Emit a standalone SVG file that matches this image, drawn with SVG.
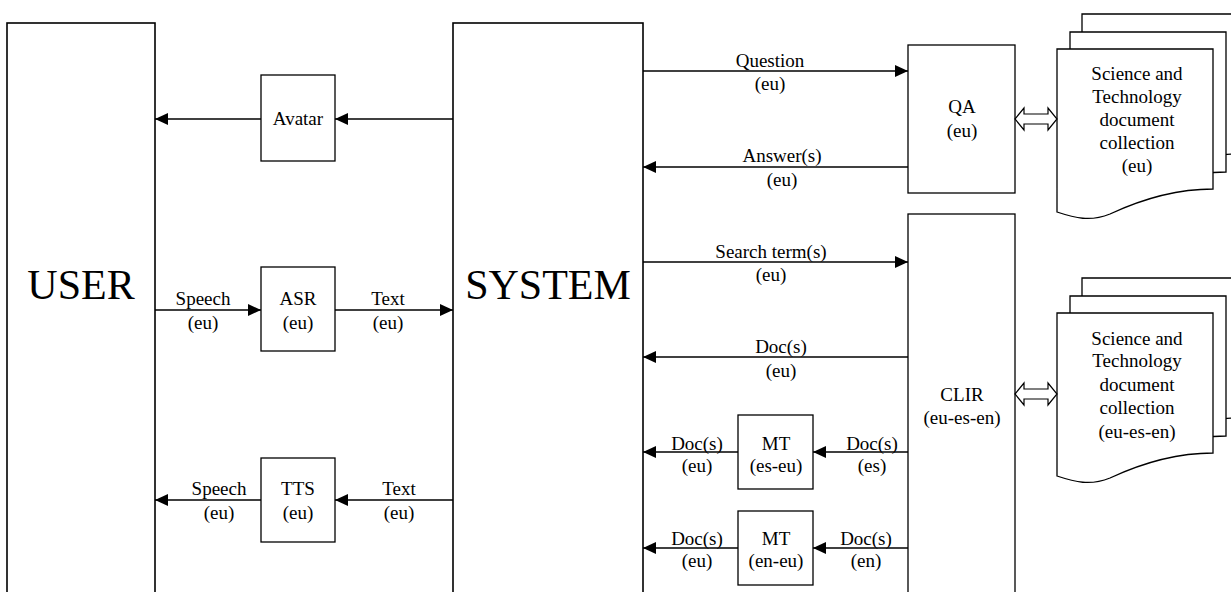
<svg xmlns="http://www.w3.org/2000/svg" xmlns:xlink="http://www.w3.org/1999/xlink" width="1231" height="592" viewBox="0 0 1231 592">
<style>
.box{fill:#fff;stroke:#000;stroke-width:1.3}
.big{fill:#fff;stroke:#000;stroke-width:1.6}
text{font-family:"Liberation Serif","Times New Roman",serif;font-size:19px;fill:#000;text-anchor:middle}
.t42{font-size:42px}
.ln{stroke:#000;stroke-width:1.3;fill:none}
.arr{stroke:#000;stroke-width:1.3;fill:none;marker-end:url(#ah)}
.dbl{fill:#fff;stroke:#000;stroke-width:1.2}
</style>
<defs>
<marker id="ah" markerUnits="userSpaceOnUse" markerWidth="13" markerHeight="12" refX="13" refY="6" orient="auto">
<path d="M0,0 L13,6 L0,12 Z" fill="#000"/>
</marker>
<path id="page" d="M1057,49 H1213 V189 C1175,189 1140,200 1110,214 C1090,222 1075,218 1057,212 Z" class="box"/>
</defs>

<g id="user"><rect class="big" x="7" y="23" width="148" height="600"/><text class="t42" x="81" y="299">USER</text></g>
<g id="system"><rect class="big" x="453" y="23" width="190" height="600"/><text class="t42" x="548" y="299">SYSTEM</text></g>

<g id="avatar"><rect class="box" x="261" y="75" width="74" height="86"/><text x="298" y="125">Avatar</text></g>
<g id="asr"><rect class="box" x="261" y="267" width="74" height="84"/><text x="298" y="305">ASR</text><text x="298" y="329">(eu)</text></g>
<g id="tts"><rect class="box" x="261" y="458" width="74" height="84"/><text x="298" y="495">TTS</text><text x="298" y="519">(eu)</text></g>

<g id="qa"><rect class="box" x="908" y="45" width="107" height="148"/><text x="962" y="113">QA</text><text x="962" y="137">(eu)</text></g>
<g id="clir"><rect class="box" x="908" y="214" width="107" height="400"/><text x="962" y="401">CLIR</text><text x="962" y="424">(eu-es-en)</text></g>

<g id="mt1"><rect class="box" x="738" y="415" width="75" height="74"/><text x="776" y="450">MT</text><text x="776" y="472">(es-eu)</text></g>
<g id="mt2"><rect class="box" x="738" y="511" width="75" height="74"/><text x="776" y="545">MT</text><text x="776" y="567">(en-eu)</text></g>

<g id="doc-eu">
<use xlink:href="#page" transform="translate(25,-35)"/>
<use xlink:href="#page" transform="translate(13,-17)"/>
<use xlink:href="#page"/>
<text x="1137" y="80">Science and</text>
<text x="1137" y="103">Technology</text>
<text x="1137" y="126">document</text>
<text x="1137" y="149">collection</text>
<text x="1137" y="172">(eu)</text>
</g>
<g id="doc-multi">
<use xlink:href="#page" transform="translate(25,229)"/>
<use xlink:href="#page" transform="translate(13,247)"/>
<use xlink:href="#page" transform="translate(0,264)"/>
<text x="1137" y="345">Science and</text>
<text x="1137" y="367">Technology</text>
<text x="1137" y="391">document</text>
<text x="1137" y="414">collection</text>
<text x="1137" y="438">(eu-es-en)</text>
</g>

<g id="connectors">
<line class="arr" x1="453" y1="119" x2="335" y2="119"/>
<line class="arr" x1="261" y1="119" x2="155" y2="119"/>
<line class="arr" x1="155" y1="310" x2="261" y2="310"/>
<line class="arr" x1="335" y1="310" x2="453" y2="310"/>
<line class="arr" x1="453" y1="500" x2="335" y2="500"/>
<line class="arr" x1="261" y1="500" x2="155" y2="500"/>
<line class="arr" x1="643" y1="71" x2="908" y2="71"/>
<line class="arr" x1="908" y1="167" x2="643" y2="167"/>
<line class="arr" x1="643" y1="262" x2="908" y2="262"/>
<line class="arr" x1="908" y1="357" x2="643" y2="357"/>
<line class="arr" x1="908" y1="452" x2="813" y2="452"/>
<line class="arr" x1="738" y1="452" x2="643" y2="452"/>
<line class="arr" x1="908" y1="548" x2="813" y2="548"/>
<line class="arr" x1="738" y1="548" x2="643" y2="548"/>
<polygon class="dbl" points="1015,119 1024,108 1024,114 1048,114 1048,108 1057,119 1048,130 1048,124 1024,124 1024,130"/>
<polygon class="dbl" points="1015,394 1024,383 1024,389 1048,389 1048,383 1057,394 1048,405 1048,399 1024,399 1024,405"/>
<text x="203" y="305">Speech</text><text x="203" y="329">(eu)</text>
<text x="388" y="305">Text</text><text x="388" y="329">(eu)</text>
<text x="219" y="495">Speech</text><text x="219" y="519">(eu)</text>
<text x="399" y="495">Text</text><text x="399" y="519">(eu)</text>
<text x="770" y="67">Question</text><text x="770" y="90">(eu)</text>
<text x="782" y="162">Answer(s)</text><text x="782" y="186">(eu)</text>
<text x="771" y="258">Search term(s)</text><text x="771" y="281">(eu)</text>
<text x="781" y="353">Doc(s)</text><text x="781" y="377">(eu)</text>
<text x="697" y="450">Doc(s)</text><text x="697" y="472">(eu)</text>
<text x="872" y="450">Doc(s)</text><text x="872" y="472">(es)</text>
<text x="697" y="545">Doc(s)</text><text x="697" y="567">(eu)</text>
<text x="866" y="545">Doc(s)</text><text x="866" y="567">(en)</text>
</g>
</svg>
